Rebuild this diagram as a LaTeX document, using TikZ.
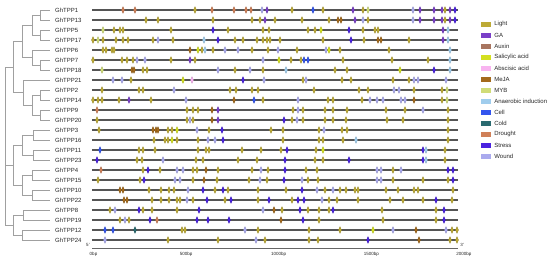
\documentclass[tikz,border=0pt]{standalone}
\usepackage{fontspec}
\setmainfont{Liberation Sans}
\usepackage{xcolor}
\usepackage{tikz}
\usetikzlibrary{shapes.geometric, positioning}
\definecolor{cL}{HTML}{BDAA36}
\definecolor{cG}{HTML}{7A3FC8}
\definecolor{cX}{HTML}{A87560}
\definecolor{cS}{HTML}{D4E020}
\definecolor{cA}{HTML}{F8B4F0}
\definecolor{cJ}{HTML}{A46A1C}
\definecolor{cM}{HTML}{D0DC78}
\definecolor{cN}{HTML}{A0CDED}
\definecolor{cC}{HTML}{3355EE}
\definecolor{cK}{HTML}{2A6A70}
\definecolor{cD}{HTML}{D08058}
\definecolor{cT}{HTML}{4A22E0}
\definecolor{cW}{HTML}{AAAAEE}
\definecolor{treegray}{HTML}{A0A0A0}
\definecolor{linegray}{HTML}{555555}

\begin{document}
\begin{tikzpicture}[x=1pt, y=-1pt,
    gene/.style={font=\fontsize{6}{7}\selectfont, anchor=west, inner sep=0pt, text=black!85},
    promoter/.style={line width=1.7pt, color=linegray},
    branch/.style={color=treegray, line width=0.6pt},
    elem/.style={diamond, fill=#1, draw=#1!75!black, line width=0.2pt, minimum width=3.2pt, minimum height=7pt, inner sep=0pt},
    swatch/.style={rectangle, fill=#1, minimum width=10pt, minimum height=5pt, inner sep=0pt},
    legtext/.style={font=\fontsize{6}{7}\selectfont, inner sep=0pt, text=black!85},
    scalelab/.style={font=\fontsize{4.5}{5}\selectfont, inner sep=0pt, text=black!85},
]
\useasboundingbox (0,0) rectangle (550,263);

% gene names, promoter lines and leaf ends
\foreach \g [count=\i] in {1,13,5,17,6,7,18,21,2,14,9,20,3,16,11,23,4,15,10,22,8,19,12,24} {
  \node[gene] (g\g) at (55,10*\i) {GhTPP\g};
  \coordinate (t\g) at (50,10*\i);
  \draw[promoter] (92,10*\i) -- (458,10*\i);
}

% tree
\coordinate (n1) at (40,15);
\coordinate (n5) at (40,35);
\coordinate (a1) at (32,25);
\coordinate (n7) at (40,65);
\coordinate (a2) at (32,57.5);
\coordinate (ca) at (22,41.25);
\coordinate (n2) at (40,95);
\coordinate (n9) at (40,115);
\coordinate (b1) at (32,105);
\coordinate (cb) at (23,92.5);
\coordinate (cx) at (13,66.9);
\coordinate (n3) at (33,135);
\coordinate (n11) at (33,155);
\coordinate (c1) at (22,145);
\coordinate (n4) at (32,175);
\coordinate (n10) at (32,195);
\coordinate (c2) at (22,185);
\coordinate (cc) at (13,165);
\coordinate (n8) at (23,215);
\coordinate (n12) at (22,235);
\coordinate (cd) at (13,225);
\coordinate (root) at (5,145);

\draw[branch] (n1) |- (t1) (n1) |- (t13) (n5) |- (t5) (n5) |- (t17);
\draw[branch] (a1) |- (n1) (a1) |- (n5);
\draw[branch] (n7) |- (t7) (n7) |- (t18) (a2) |- (t6) (a2) |- (n7);
\draw[branch] (ca) |- (a1) (ca) |- (a2);
\draw[branch] (n2) |- (t2) (n2) |- (t14) (n9) |- (t9) (n9) |- (t20);
\draw[branch] (b1) |- (n2) (b1) |- (n9) (cb) |- (t21) (cb) |- (b1);
\draw[branch] (cx) |- (ca) (cx) |- (cb);
\draw[branch] (n3) |- (t3) (n3) |- (t16) (n11) |- (t11) (n11) |- (t23);
\draw[branch] (c1) |- (n3) (c1) |- (n11);
\draw[branch] (n4) |- (t4) (n4) |- (t15) (n10) |- (t10) (n10) |- (t22);
\draw[branch] (c2) |- (n4) (c2) |- (n10) (cc) |- (c1) (cc) |- (c2);
\draw[branch] (n8) |- (t8) (n8) |- (t19) (n12) |- (t12) (n12) |- (t24);
\draw[branch] (cd) |- (n8) (cd) |- (n12);
\draw[branch] (root) |- (cx) (root) |- (cc) (root) |- (cd);

% cis-acting elements
\foreach \x/\k in {123/D,135/D,195/L,212/D,234/D,246/D,251/D,262/W,267/G,292/L,313/C,323/L,353/G,363/L,368/M,413/W,420/G,434/G,442/G,445/L,450/G,455/T} \node[elem=c\k] at (\x,10) {};
\foreach \x/\k in {146/L,158/L,213/L,252/L,260/L,265/G,275/L,302/L,329/L,338/J,341/J,355/G,363/W,368/L,413/W,420/G,434/G,442/G,445/L,450/G,455/T} \node[elem=c\k] at (\x,20) {};
\foreach \x/\k in {103/M,114/L,120/L,123/L,171/L,213/T,228/L,263/L,269/L,308/L,315/L,321/S,349/T,363/L,375/L,378/L,443/G,448/N} \node[elem=c\k] at (\x,30) {};
\foreach \x/\k in {93/L,98/M,103/L,116/L,123/L,128/L,153/L,158/W,173/L,204/N,218/T,235/L,243/L,257/L,263/L,267/L,270/L,280/L,323/L,351/T,364/L,378/J,381/J,409/L,443/G,448/N} \node[elem=c\k] at (\x,40) {};
\foreach \x/\k in {103/L,106/L,112/L,114/L,190/J,198/S,202/L,205/N,213/L,225/W,238/W,252/L,268/L,278/W,297/L,326/W,329/S,340/L,389/L,450/N} \node[elem=c\k] at (\x,50) {};
\foreach \x/\k in {93/L,122/L,127/L,133/L,137/W,145/W,171/L,190/G,195/L,263/W,279/S,291/L,301/L,304/C,308/C,343/L,392/L,428/L,450/N} \node[elem=c\k] at (\x,60) {};
\foreach \x/\k in {102/M,132/J,134/J,143/L,147/L,218/W,235/L,250/W,263/L,286/N,335/L,347/L,400/S,434/T,450/N} \node[elem=c\k] at (\x,70) {};
\foreach \x/\k in {113/W,122/W,131/L,183/S,192/A,243/T,264/W,303/L,306/W,342/L,351/L,393/L,409/L,414/W,418/W,446/W} \node[elem=c\k] at (\x,80) {};
\foreach \x/\k in {102/L,139/L,143/L,174/W,230/L,236/L,252/L,258/L,314/L,359/L,368/L,394/W,399/W,414/L,442/L,447/M} \node[elem=c\k] at (\x,90) {};
\foreach \x/\k in {93/L,98/L,102/L,119/L,129/G,151/L,186/W,234/J,254/C,263/L,298/W,328/L,333/L,362/L,370/W,377/W,383/W,401/W,405/W,414/J,442/L,447/M} \node[elem=c\k] at (\x,100) {};
\foreach \x/\k in {97/D,187/L,193/L,198/L,212/J,218/G,293/L,298/W,303/L,325/L,333/L,347/L,386/L,405/L,423/W,448/L} \node[elem=c\k] at (\x,110) {};
\foreach \x/\k in {97/L,187/L,190/W,193/L,212/J,218/G,284/T,292/L,297/W,303/L,325/L,333/L,346/L,387/L,403/L,448/L} \node[elem=c\k] at (\x,120) {};
\foreach \x/\k in {99/L,153/J,156/J,158/J,168/L,172/L,177/S,197/W,209/L,222/T,271/L,283/L,319/L,324/W,342/L,347/L,448/L} \node[elem=c\k] at (\x,130) {};
\foreach \x/\k in {154/L,165/L,168/L,172/S,177/L,198/L,208/W,215/W,223/T,283/L,319/L,323/L,343/L,356/N,448/L} \node[elem=c\k] at (\x,140) {};
\foreach \x/\k in {100/C,139/L,143/L,155/L,198/L,206/L,209/L,242/L,261/L,281/L,287/T,316/L,323/S,423/T,426/N,445/L} \node[elem=c\k] at (\x,150) {};
\foreach \x/\k in {97/T,137/L,142/L,163/W,196/L,203/L,238/L,257/L,285/T,315/L,323/L,349/T,423/T,426/N,445/L} \node[elem=c\k] at (\x,160) {};
\foreach \x/\k in {101/D,143/L,148/T,160/L,177/W,183/W,193/L,197/L,206/J,218/L,252/L,261/W,268/L,285/T,306/L,317/L,377/W,381/W,393/L,401/W,448/T,453/T} \node[elem=c\k] at (\x,170) {};
\foreach \x/\k in {98/L,140/L,144/T,175/W,180/W,193/L,204/J,217/L,249/L,260/W,267/L,284/T,302/W,308/L,318/L,377/W,381/W,393/L,423/L,448/L,453/T} \node[elem=c\k] at (\x,180) {};
\foreach \x/\k in {120/J,123/J,149/L,161/L,169/L,174/L,188/W,203/T,215/L,223/T,228/L,258/L,286/L,302/T,317/W,325/L,333/W,340/L,346/L,355/L,358/L,386/L,398/L,414/L,418/L,453/L} \node[elem=c\k] at (\x,190) {};
\foreach \x/\k in {124/J,127/J,152/L,161/L,169/L,177/L,180/L,187/W,193/L,207/T,225/L,231/T,258/L,269/T,292/L,298/T,304/T,322/W,329/L,337/L,358/L,390/L,403/L,423/L,436/T,452/L} \node[elem=c\k] at (\x,200) {};
\foreach \x/\k in {110/L,115/W,139/T,143/L,152/L,177/L,199/T,263/W,274/J,282/L,300/T,308/L,319/L,329/L,333/T,382/L,436/L,444/T} \node[elem=c\k] at (\x,210) {};
\foreach \x/\k in {120/L,125/W,129/L,150/T,157/D,197/T,208/T,229/T,281/J,303/T,319/L,383/L,436/L,444/T} \node[elem=c\k] at (\x,220) {};
\foreach \x/\k in {105/C,113/C,135/K,182/L,185/L,245/W,258/L,309/L,340/L,373/S,393/W,416/J,446/W,452/L,457/L} \node[elem=c\k] at (\x,230) {};
\foreach \x/\k in {105/W,168/L,218/L,256/W,265/L,309/L,318/L,368/T,419/J,450/L,457/L} \node[elem=c\k] at (\x,240) {};

% scale
\draw[color=black!60, line width=0.4pt] (92,248) -- (458,248);
\node[scalelab] (p5) at (88,245) {5'};
\node[scalelab] (p3) at (462,245) {3'};
\foreach \b [count=\i from 0] in {0,500,1000,1500,2000}
  \node[scalelab] (s\b) at (93.5+92.6*\i,254) {\b bp};

% legend
\foreach \name/\k [count=\i] in {Light/L, GA/G, Auxin/X, Salicylic acid/S, Abscisic acid/A, MeJA/J, MYB/M, Anaerobic induction/N, Cell/C, Cold/K, Drought/D, Stress/T, Wound/W} {
  \node[swatch=c\k] (sw\i) at (486,13+11*\i) {};
  \node[legtext, right=3pt of sw\i] (lg\i) {\name};
}
\end{tikzpicture}
\end{document}
